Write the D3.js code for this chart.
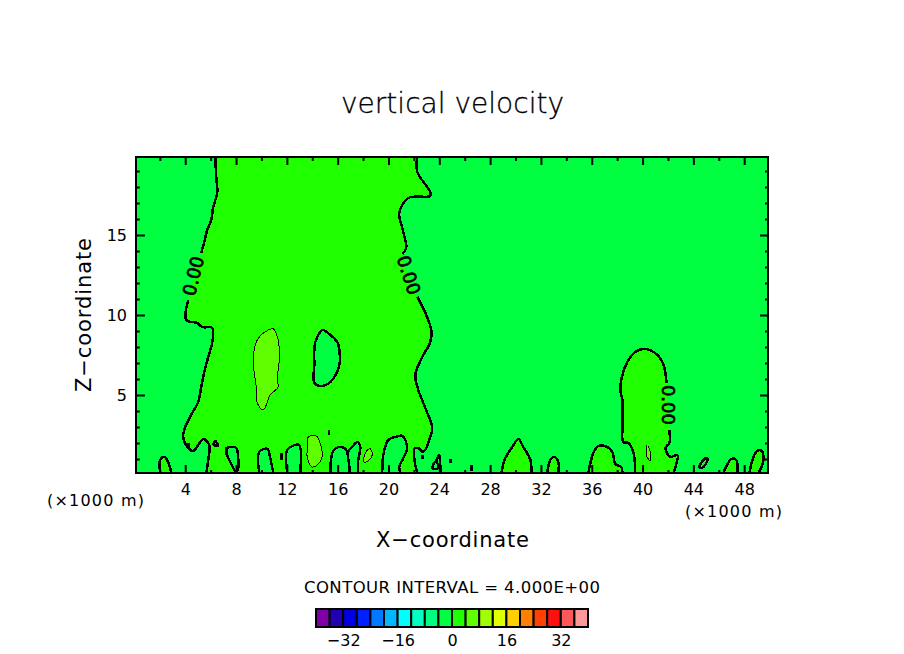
<!DOCTYPE html>
<html>
<head>
<meta charset="utf-8">
<title>vertical velocity</title>
<script src="https://cdn.jsdelivr.net/npm/d3@7"></script>
<style>
  html, body { margin: 0; background: #fff; }
  text { font-family: "DejaVu Sans", sans-serif; fill: #000; }
</style>
</head>
<body>
<div id="chart"></div>
<script>
// axis values ---------------------------------------------------------
const xMajor = [4, 8, 12, 16, 20, 24, 28, 32, 36, 40, 44, 48];
const xMinor = [2, 6, 10, 14, 18, 22, 26, 30, 34, 38, 42, 46];
const zMajor = [5, 10, 15];
const zMinor = [1, 2, 3, 4, 6, 7, 8, 9, 11, 12, 13, 14, 16, 17, 18, 19];
const barLabels = [-32, -16, 0, 16, 32];

// contour bands, interval 4 from -40 to 40
const bandEdges = d3.range(-40, 41, 4);
const bandColors = ["#8000a8", "#2000b0", "#0000e0", "#0020ff", "#0078ff", "#00b8ff", "#00ffff", "#00ffc0", "#00ff80", "#00ff40",
  "#20ff00", "#60ff00", "#a0ff00", "#e0ff00", "#ffd000", "#ff8000", "#ff4000", "#ff1010", "#ff5858", "#ff9898"];

// zero contour as [x, z] in 1000 m
const mainLeftUpper = [[6.36,19.88],[6.44,18.63],[6.52,17.63],[6.20,16.75],[6.05,15.94],[5.73,15.31],[5.50,14.56],[5.26,13.88]];
const mainLeftLower = [[4.24,10.94],[4.08,9.69],[4.94,9.50],[5.34,9.25],[6.13,9.19],[6.13,8.31],[5.81,7.38],[5.50,6.44],[5.26,5.50],[5.02,4.56],
  [4.55,3.88],[4.00,3.00],[3.84,2.38],[4.24,1.69],[4.63,1.50],[5.42,2.25],[5.89,1.88],[5.81,0.94],[5.65,0.13]];
const mainRightUpper = [[22.27,19.88],[22.27,18.94],[23.29,17.69],[23.29,17.44],[21.56,17.31],[20.85,16.38],[21.09,15.44],[21.32,14.69],[21.40,14.19],[21.09,13.81]];
const mainRightLower = [[22.27,11.13],[22.90,10.13],[23.37,9.06],[23.29,8.31],[22.66,7.38],[22.11,6.25],[22.35,5.31],[22.90,4.19],[23.45,2.94],[23.29,2.38],
  [22.74,1.44],[22.33,1.69],[22.03,1.63],[22.11,0.63],[22.27,0.13]];
const bigLeft = [[39.43,0.13],[39.27,1.44],[38.88,2.00],[38.48,2.06],[38.41,2.94],[38.41,4.69],[38.25,5.31],[38.41,6.25],[38.80,7.06],[39.43,7.69],[40.22,7.88],[41.17,7.50],[41.65,6.88],[41.89,5.75]];
const bigRight = [[42.11,2.81],[42.11,2.00],[41.80,1.69],[42.19,1.13],[42.74,1.25],[42.43,0.13]];

// closed zero contours below 0 inside the main area
const negativeCells = [
  [[14.79,9.06],[15.02,9.00],[15.97,8.31],[16.13,7.81],[16.13,6.88],[15.42,5.81],[14.63,5.56],[14.16,5.75],[14.16,6.88],[14.24,8.31]],
  [[7.23,1.69],[7.62,1.75],[8.02,1.69],[8.17,1.06],[8.17,0.44],[8.02,0.19],[7.39,1.06],[7.23,1.38]],
  [[9.83,0.13],[9.83,1.44],[10.46,1.63],[10.69,1.06],[10.93,0.13]],
  [[12.03,0.13],[12.03,1.56],[12.66,1.88],[12.98,1.88],[13.06,0.13]],
  [[15.42,0.13],[15.65,1.50],[16.20,1.75],[16.68,1.56],[16.91,0.13]],
  [[16.76,1.44],[17.07,1.69],[17.54,2.06],[17.78,1.75],[17.62,0.94],[17.54,0.13],[16.99,0.13]],
  [[19.51,0.13],[19.59,1.25],[19.98,2.19],[20.53,2.38],[21.09,2.44],[21.48,1.69],[21.17,1.06],[20.85,0.50],[20.93,0.13]]
];

// closed zero contours above 0 in the outer area
const positiveCells = [
  [[2.03,0.13],[2.03,0.94],[2.35,1.13],[2.66,0.81],[2.90,0.13]],
  [[28.88,0.13],[29.20,1.06],[29.75,1.75],[30.22,2.25],[30.61,1.75],[31.17,0.94],[31.25,0.13]],
  [[32.50,0.13],[32.74,0.94],[33.06,1.13],[33.37,0.81],[33.37,0.13]],
  [[35.73,0.13],[36.13,1.38],[36.52,1.81],[37.23,1.75],[37.62,1.44],[37.86,0.69],[38.33,0.50],[38.41,0.13]],
  [[44.47,0.50],[44.87,1.00],[45.10,1.06],[45.02,0.75],[44.63,0.44]],
  [[46.36,0.13],[46.99,1.00],[47.38,0.94],[47.46,0.13]],
  [[48.41,0.13],[48.88,1.38],[49.28,1.56],[49.51,1.25],[49.43,0.63],[49.13,0.13]]
];

// contour 4, thin line
const level4Cells = [
  [[10.93,9.13],[11.32,8.44],[11.40,7.19],[11.24,5.94],[11.32,5.50],[10.69,5.00],[10.14,4.06],[9.67,4.50],[9.59,5.50],[9.35,7.19],[9.67,8.44],[10.54,9.06]],
  [[13.69,2.38],[14.31,2.44],[14.79,1.25],[14.47,0.69],[14.00,0.50],[13.61,1.06],[13.61,1.69]],
  [[18.57,1.63],[18.72,1.25],[18.41,0.88],[18.09,0.81],[18.09,1.19],[18.33,1.56]],
  [[40.38,1.88],[40.61,1.44],[40.61,0.88],[40.30,1.25]]
];

// very small zero contours near the ground
const specks = [
  [[4.24,2.00],[4.24,1.69]],
  [[5.89,1.94],[5.89,1.63]],
  [[6.20,1.88],[6.36,2.13],[6.60,1.81],[6.20,1.88]],
  [[15.33,2.81],[15.33,2.50]],
  [[11.56,1.38],[11.56,0.94]],
  [[22.66,1.25],[22.66,1.00]],
  [[24.87,1.00],[24.87,0.75]],
  [[26.52,0.63],[26.52,0.25]],
  [[23.50,0.63],[23.75,0.88],[23.90,0.44],[23.50,0.38],[23.50,0.63]],
  [[23.75,0.88],[24.00,1.25],[24.08,0.13]]
];

// inline labels on the zero contour: x, z, angle
const lineLabels = [
  { x: 4.63, z: 12.44, angle: -76 },
  { x: 21.60, z: 12.50, angle: 72 },
  { x: 42.03, z: 4.38, angle: 90 }
];

// svg canvas ------------------------------------------------------------
const svg = d3.select("#chart").append("svg")
  .attr("width", 904)
  .attr("height", 654)
  .style("display", "block");

const xScale = d3.scaleLinear().domain([0.125, 49.875]).range([136, 768]);
const zScale = d3.scaleLinear().domain([0.125, 19.875]).range([473, 157]);
const barScale = d3.scaleLinear().domain([-40, 40]).range([316, 588]);
const colorOf = d3.scaleQuantize().domain([-40, 40]).range(bandColors);

const line = d3.line().x(d => xScale(d[0])).y(d => zScale(d[1])).curve(d3.curveCatmullRom.alpha(0.5));
const loop = d3.line().x(d => xScale(d[0])).y(d => zScale(d[1])).curve(d3.curveCatmullRomClosed.alpha(0.5));

// cells on the ground close along the frame, floating ones get a smooth loop
function cellPath(d) {
  return d3.min(d, p => p[1]) < 0.2 ? line(d) + "Z" : loop(d);
}

svg.append("clipPath").attr("id", "plotClip")
  .append("rect")
  .attr("x", 136).attr("y", 157).attr("width", 632).attr("height", 316);

const plot = svg.append("g").attr("clip-path", "url(#plotClip)");

plot.append("rect")
  .attr("x", 136).attr("y", 157).attr("width", 632).attr("height", 316)
  .attr("fill", colorOf(-2));

// filled bands
const mainArea = [...mainLeftUpper, ...mainLeftLower, ...mainRightLower.slice().reverse(), ...mainRightUpper.slice().reverse()];
const bigArea = [...bigLeft, ...bigRight];

function drawCells(cells, level, width, pathOf) {
  plot.selectAll(null)
    .data(cells)
    .enter().append("path")
    .attr("d", pathOf)
    .attr("fill", level === null ? "none" : colorOf(level))
    .attr("stroke", "#000")
    .attr("stroke-width", width)
    .attr("stroke-linejoin", "round")
    .style("shape-rendering", "crispEdges");
}

plot.selectAll(null)
  .data([mainArea, bigArea])
  .enter().append("path")
  .attr("d", d => line(d) + "Z")
  .attr("fill", colorOf(2));

drawCells([mainLeftUpper, mainLeftLower, mainRightUpper, mainRightLower, bigLeft, bigRight], null, 2.5, line);
drawCells(negativeCells, -2, 2.5, cellPath);
drawCells(positiveCells, 2, 2.5, cellPath);
drawCells(level4Cells, 6, 1, cellPath);
drawCells(specks, null, 2.5, line);

// contour labels
plot.selectAll(null)
  .data(lineLabels)
  .enter().append("text")
  .attr("transform", d => `translate(${xScale(d.x)},${zScale(d.z)}) rotate(${d.angle})`)
  .attr("text-anchor", "middle")
  .attr("dy", "0.36em")
  .attr("font-size", 18)
  .attr("stroke", "#000")
  .attr("stroke-width", 0.7)
  .text("0.00");

// axes ------------------------------------------------------------------
function addAxis(axis, x, y, labelled) {
  const g = svg.append("g").attr("transform", `translate(${x},${y})`).call(axis);
  g.select(".domain").remove();
  g.selectAll("line").attr("stroke", "#000").attr("stroke-width", 2);
  g.selectAll("text").attr("font-size", 16).attr("font-family", null);
  if (!labelled) g.selectAll("text").remove();
  return g;
}

addAxis(d3.axisBottom(xScale).tickValues(xMajor).tickSize(-8).tickPadding(10.5), 0, 473, true);
addAxis(d3.axisBottom(xScale).tickValues(xMinor).tickSize(-3), 0, 473, false);
addAxis(d3.axisTop(xScale).tickValues(xMajor).tickSize(-8), 0, 157, false);
addAxis(d3.axisTop(xScale).tickValues(xMinor).tickSize(-4), 0, 157, false);
addAxis(d3.axisLeft(zScale).tickValues(zMajor).tickSize(-9).tickPadding(9), 136, 0, true);
addAxis(d3.axisLeft(zScale).tickValues(zMinor).tickSize(-4), 136, 0, false);
addAxis(d3.axisRight(zScale).tickValues(zMajor).tickSize(-8), 768, 0, false);
addAxis(d3.axisRight(zScale).tickValues(zMinor).tickSize(-3), 768, 0, false);

svg.append("rect")
  .attr("x", 136).attr("y", 157).attr("width", 632).attr("height", 316)
  .attr("fill", "none").attr("stroke", "#000").attr("stroke-width", 2);

// titles ----------------------------------------------------------------
function addText(txt, x, y, size, length, anchor) {
  return svg.append("text")
    .attr("x", x).attr("y", y)
    .attr("font-size", size)
    .attr("text-anchor", anchor || "start")
    .attr("textLength", length)
    .attr("lengthAdjust", "spacing")
    .text(txt);
}

addText("vertical velocity", 341, 113, 28, 223)
  .attr("font-weight", 200)
  .attr("stroke", "#000")
  .attr("stroke-width", 0.3);
addText("X\u2212coordinate", 376, 547, 21, 153);
addText("(\u00d71000 m)", 47, 506, 16, 97);
addText("(\u00d71000 m)", 685, 517, 16, 97);
addText("CONTOUR INTERVAL = 4.000E+00", 304, 593, 16.5, 296);

svg.append("text")
  .attr("transform", "translate(91,392) rotate(-90)")
  .attr("font-size", 21)
  .attr("textLength", 154)
  .attr("lengthAdjust", "spacing")
  .text("Z\u2212coordinate");

// colour bar -------------------------------------------------------------
const barCells = svg.append("g");
barCells.selectAll("rect")
  .data(bandColors)
  .enter().append("rect")
  .attr("x", (d, i) => barScale(bandEdges[i]))
  .attr("y", 609)
  .attr("width", (d, i) => barScale(bandEdges[i + 1]) - barScale(bandEdges[i]))
  .attr("height", 18)
  .attr("fill", d => d)
  .attr("stroke", "#000")
  .attr("stroke-width", 2);

const barAxis = d3.axisBottom(barScale)
  .tickValues(barLabels)
  .tickSize(0)
  .tickPadding(8)
  .tickFormat(d => d3.format("d")(d));
const barG = svg.append("g").attr("transform", "translate(0,627)").call(barAxis);
barG.select(".domain").remove();
barG.selectAll("text").attr("font-size", 16).attr("font-family", null);
</script>
</body>
</html>
